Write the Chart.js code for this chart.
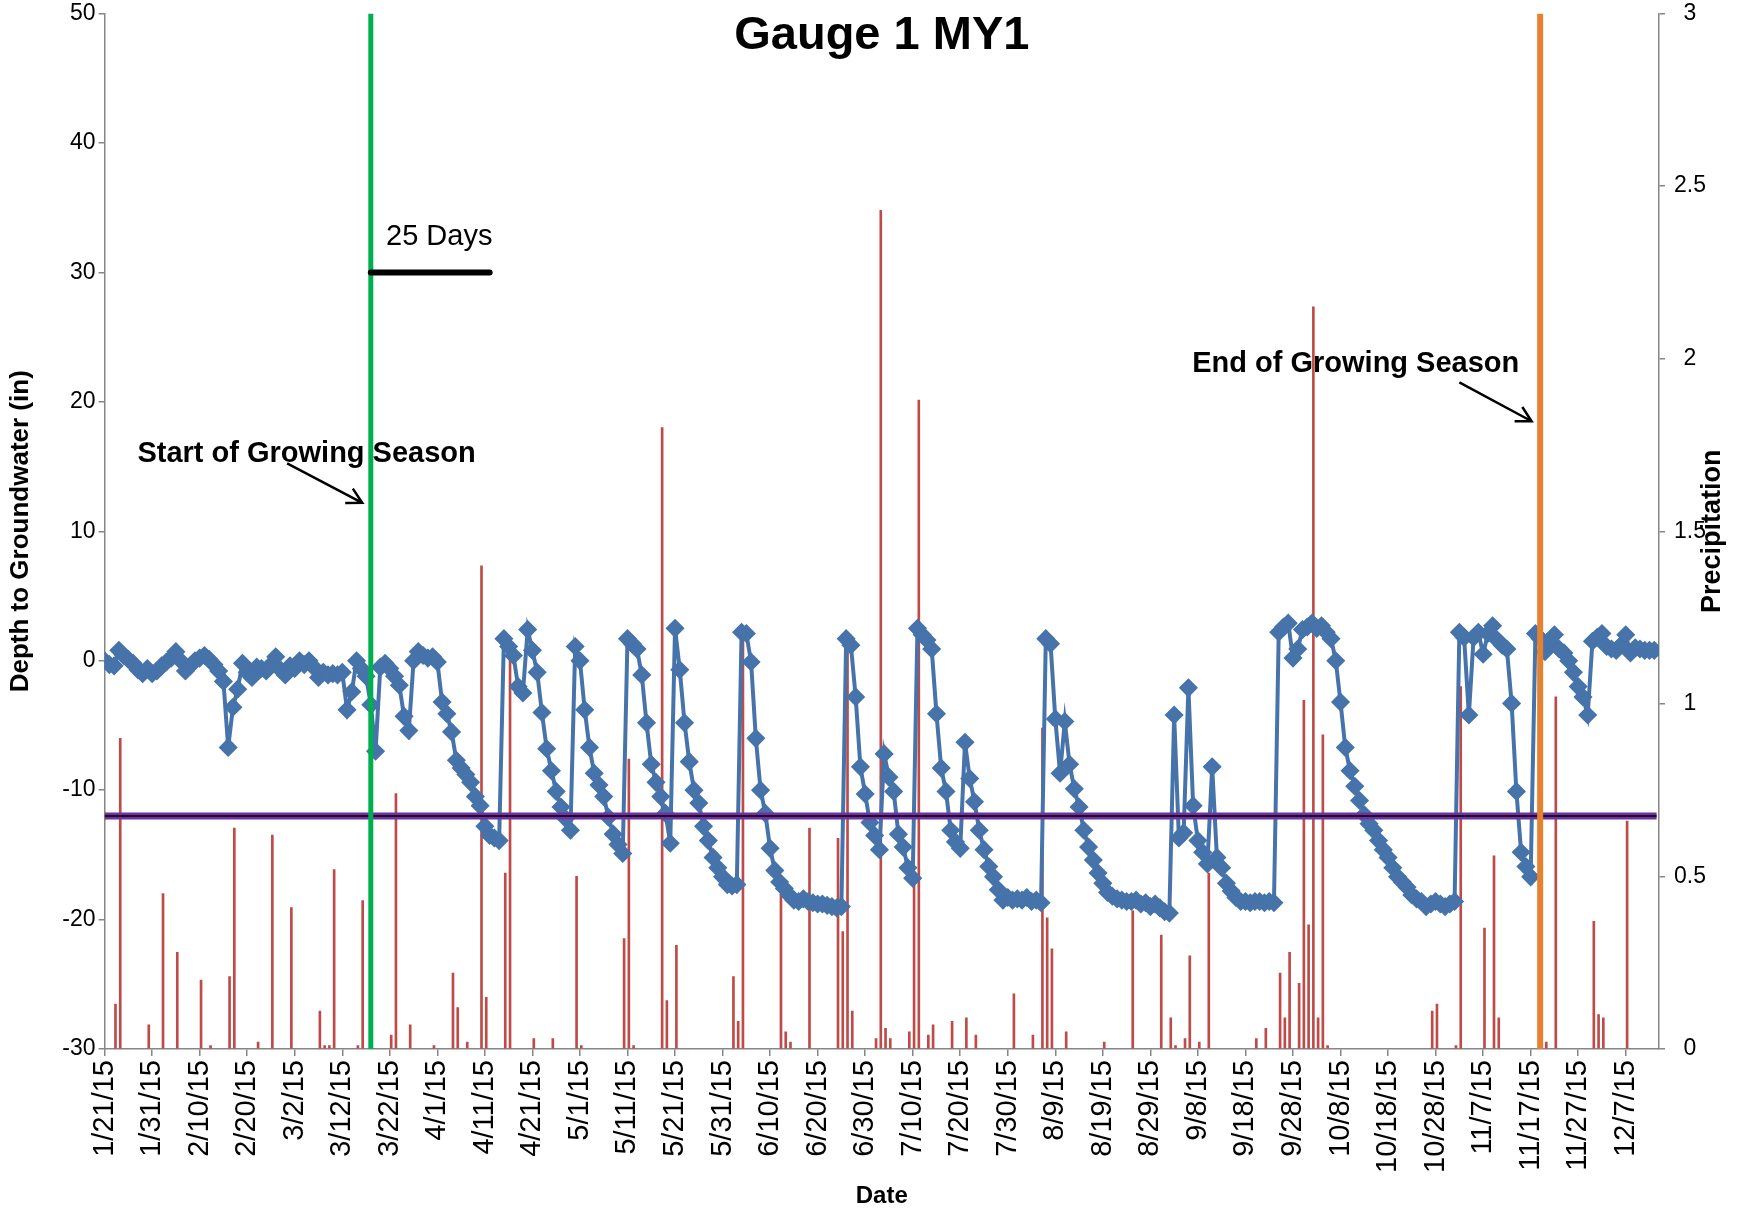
<!DOCTYPE html>
<html>
<head>
<meta charset="utf-8">
<title>Gauge 1 MY1</title>
<script src="https://cdn.jsdelivr.net/npm/chart.js@4.4.1/dist/chart.umd.min.js"></script>
<style>
  html, body { margin: 0; padding: 0; background: #fff; }
</style>
</head>
<body>
<canvas id="chart" width="1763" height="1212"></canvas>
<script>
// Daily well readings from 1/21/15; index = days since 1/21/15.
const TITLE = "Gauge 1 MY1";

const TICK_LABELS = [
  "1/21/15", "1/31/15", "2/10/15", "2/20/15", "3/2/15", "3/12/15", "3/22/15",
  "4/1/15", "4/11/15", "4/21/15", "5/1/15", "5/11/15", "5/21/15", "5/31/15",
  "6/10/15", "6/20/15", "6/30/15", "7/10/15", "7/20/15", "7/30/15", "8/9/15",
  "8/19/15", "8/29/15", "9/8/15", "9/18/15", "9/28/15", "10/8/15", "10/18/15",
  "10/28/15", "11/7/15", "11/17/15", "11/27/15", "12/7/15",
];

// depth to groundwater (in), one value per day
const GW_DEPTH = [
  0.0, -0.3, -0.4, 0.8, 0.4, 0.1, -0.2, -0.7, -1.0, -0.6,          // 1/21
  -1.0, -0.8, -0.4, -0.1, 0.2, 0.7, 0.0, -0.8, -0.4, 0.0,          // 1/31
  0.2, 0.4, 0.1, -0.3, -0.8, -1.6, -6.7, -3.6, -2.2, -0.2,         // 2/10
  -0.9, -1.3, -0.5, -0.6, -0.8, -0.3, 0.3, -0.7, -1.1, -0.4,       // 2/20
  -0.6, 0.0, -0.3, 0.0, -0.5, -1.3, -0.9, -1.1, -1.0, -1.1,        // 3/2
  -0.9, -3.8, -2.4, 0.0, -0.6, -1.2, -3.4, -7.0, -0.5, -0.2,       // 3/12
  -0.6, -1.2, -1.9, -4.3, -5.4, 0.0, 0.7, 0.4, 0.2, 0.3,           // 3/22
  -0.1, -3.2, -4.1, -5.5, -7.7, -8.3, -8.8, -9.4, -10.5, -11.2,    // 4/1
  -12.8, -13.5, -13.7, -13.9, 1.7, 1.1, 0.4, -2.0, -2.5, 2.4,      // 4/11
  0.8, -0.9, -4.0, -6.8, -8.5, -10.1, -11.3, -12.2, -13.1, 1.1,    // 4/21
  0.0, -3.8, -6.7, -8.7, -9.6, -10.5, -12.1, -13.4, -14.2, -14.9,  // 5/1
  1.7, 1.3, 0.9, -1.1, -4.8, -8.0, -9.4, -10.5, -11.8, -14.1,      // 5/11
  2.5, -0.7, -4.8, -7.8, -10.0, -11.0, -12.8, -13.9, -15.2, -16.0, // 5/21
  -16.7, -17.3, -17.4, -17.3, 2.2, 2.1, -0.1, -6.0, -10.0, -11.8,  // 5/31
  -14.5, -16.2, -17.1, -17.6, -18.1, -18.5, -18.6, -18.4, -18.6, -18.7, // 6/10
  -18.8, -18.8, -18.9, -19.0, -19.1, -19.0, 1.7, 1.2, -2.8, -8.2,  // 6/20
  -10.3, -12.5, -13.5, -14.6, -7.2, -9.0, -10.1, -13.4, -14.4, -16.0, // 6/30
  -16.8, 2.5, 2.0, 1.6, 0.9, -4.1, -8.3, -10.1, -13.1, -14.0,      // 7/10
  -14.5, -6.3, -9.1, -10.9, -13.1, -14.6, -15.9, -16.7, -17.7, -18.5, // 7/20
  -18.3, -18.5, -18.4, -18.5, -18.3, -18.6, -18.5, -18.7, 1.7, 1.3, // 7/30
  -4.5, -8.7, -4.7, -8.0, -9.9, -11.3, -13.1, -14.4, -15.4, -16.4, // 8/9
  -17.2, -17.9, -18.2, -18.4, -18.5, -18.6, -18.6, -18.5, -18.8, -18.7, // 8/19
  -19.0, -18.8, -19.1, -19.4, -19.5, -4.2, -13.7, -13.3, -2.1, -11.2, // 8/29
  -13.9, -14.8, -15.7, -8.2, -15.2, -16.0, -17.2, -17.8, -18.3, -18.6, // 9/8
  -18.6, -18.7, -18.6, -18.6, -18.7, -18.6, -18.7, 2.2, 2.6, 2.9,  // 9/18
  0.2, 0.9, 2.4, 2.6, 2.9, 2.5, 2.7, 2.2, 1.7, 0.0,                // 9/28
  -3.2, -6.7, -8.5, -9.7, -10.8, -11.9, -12.6, -13.1, -13.9, -14.6, // 10/8
  -15.2, -16.0, -16.7, -17.1, -17.5, -18.1, -18.4, -18.6, -19.0, -18.8, // 10/18
  -18.6, -18.8, -19.0, -18.8, -18.6, 2.2, 1.8, -4.2, 1.8, 2.2,     // 10/28
  0.5, 2.1, 2.7, 1.6, 1.2, 0.9, -3.3, -10.1, -14.8, -15.9,         // 11/7
  -16.7, 2.1, 1.7, 0.7, 1.2, 2.0, 0.9, 0.6, 0.0, -0.9,             // 11/17
  -2.0, -2.8, -4.2, 1.5, 1.8, 2.1, 1.1, 0.9, 0.8, 1.2,             // 11/27
  2.0, 0.6, 1.0, 0.9, 0.8, 0.8, 0.8,                               // 12/7
];

// daily precipitation (in): day index and amount, dry days left out
const PRECIP_DAY = [
  2, 3, 9, 12, 15, 20, 22, 26, 27, 32, 35, 39, 45, 46, 47, 48, 53, 54,
  60, 61, 64, 69, 73, 74, 76, 79, 80, 84, 85, 90, 94, 99, 100, 109, 110, 111,
  117, 118, 120, 132, 133, 134, 142, 143, 144, 148, 154, 155, 156, 157,
  162, 163, 164, 165, 169, 170, 171, 173, 174,
  178, 181, 183, 191, 195, 197, 198, 199, 202, 210, 216, 222, 224, 225,
  227, 228, 230, 232,
  242, 244, 247, 248, 249, 251, 252, 253, 254, 255, 256, 257,
  279, 280, 284, 285, 290, 292, 293,
  303, 305, 313, 314, 315, 320,
];
const PRECIP_IN = [
  0.13, 0.90, 0.07, 0.45, 0.28, 0.20, 0.01, 0.21, 0.64, 0.02, 0.62, 0.41, 0.11, 0.01, 0.01, 0.52, 0.01, 0.43,
  0.04, 0.74, 0.07, 0.01, 0.22, 0.12, 0.02, 1.40, 0.15, 0.51, 1.13, 0.03, 0.03, 0.50, 0.01, 0.32, 0.84, 0.01,
  1.80, 0.14, 0.30, 0.21, 0.08, 1.22, 0.45, 0.05, 0.02, 0.64, 0.61, 0.34, 1.15, 0.11,
  0.03, 2.43, 0.06, 0.03, 0.05, 0.51, 1.88, 0.04, 0.07,
  0.08, 0.09, 0.04, 0.16, 0.04, 0.93, 0.38, 0.29, 0.05, 0.02, 0.40, 0.33, 0.09, 0.01,
  0.03, 0.27, 0.02, 0.51,
  0.03, 0.06, 0.22, 0.09, 0.28, 0.19, 1.01, 0.36, 2.15, 0.09, 0.91, 0.01,
  0.11, 0.13, 0.01, 1.05, 0.35, 0.56, 0.09,
  0.02, 1.02, 0.37, 0.10, 0.09, 0.66,
];

const GROWING_START_DAY = 56;   // 3/18/15
const GROWING_END_DAY = 302;    // 11/19/15
const SEASON_WINDOW_DAYS = 25;
const SEASON_WINDOW_LEVEL = 30;
const CRITERION_DEPTH = -12;    // 12 in below surface
const LAST_DAY = 327;

const FONT = '"Liberation Sans", Arial, Helvetica, sans-serif';
const AXIS_GRAY = "#868686";
const PLOT_TOP = 13.5;

Chart.defaults.font.family = FONT;
Chart.defaults.color = "#000";

// text + arrows drawn over the plot, placed in data coordinates
const annotationPlugin = {
  id: "annotations",
  afterDraw(chart) {
    const { ctx, chartArea, scales } = chart;
    const x = scales.x, y = scales.y;
    ctx.save();
    ctx.fillStyle = "#000";
    ctx.strokeStyle = "#000";

    ctx.font = `bold 47px ${FONT}`;
    ctx.textAlign = "center";
    ctx.textBaseline = "middle";
    ctx.fillText(TITLE, (chartArea.left + chartArea.right) / 2, 36);

    ctx.font = `bold 29px ${FONT}`;
    ctx.textAlign = "left";
    ctx.fillText("Start of Growing Season", x.getPixelForValue(6.9), y.getPixelForValue(16.0));
    ctx.fillText("End of Growing Season", x.getPixelForValue(228.8), y.getPixelForValue(22.9));

    ctx.font = `29px ${FONT}`;
    ctx.fillText(SEASON_WINDOW_DAYS + " Days", x.getPixelForValue(59.2), y.getPixelForValue(32.7));

    const arrow = (d0, v0, d1, v1) => {
      const x0 = x.getPixelForValue(d0), y0 = y.getPixelForValue(v0);
      const x1 = x.getPixelForValue(d1), y1 = y.getPixelForValue(v1);
      const a = Math.atan2(y1 - y0, x1 - x0);
      ctx.lineWidth = 2.5;
      ctx.beginPath();
      ctx.moveTo(x0, y0);
      ctx.lineTo(x1, y1);
      ctx.moveTo(x1 - 17 * Math.cos(a - 0.5), y1 - 17 * Math.sin(a - 0.5));
      ctx.lineTo(x1, y1);
      ctx.lineTo(x1 - 17 * Math.cos(a + 0.5), y1 - 17 * Math.sin(a + 0.5));
      ctx.stroke();
    };
    arrow(38.4, 15.25, 54.2, 12.2);
    arrow(285.0, 21.5, 300.2, 18.5);

    // right axis title reads bottom-to-top like the left one
    ctx.font = `bold 27px ${FONT}`;
    ctx.textAlign = "center";
    ctx.translate(scales.y2.right - 50, (chartArea.top + chartArea.bottom) / 2);
    ctx.rotate(-Math.PI / 2);
    ctx.fillText("Precipitation", 0, 0);
    ctx.restore();
  },
};

const vline = (day, color, width) => ({
  type: "line",
  data: [{ x: day, y: -30 }, { x: day, y: 50 }],
  borderColor: color,
  borderWidth: width,
  pointRadius: 0,
  order: 1,
});

new Chart(document.getElementById("chart"), {
  type: "line",
  data: {
    datasets: [
      {
        label: "Precipitation",
        type: "bar",
        data: PRECIP_DAY.map((d, i) => ({ x: d, y: PRECIP_IN[i] })),
        xAxisID: "xp",
        yAxisID: "y2",
        backgroundColor: "#BE4B48",
        barThickness: 2,
        order: 5,
      },
      {
        label: "Depth to Groundwater",
        data: GW_DEPTH.map((v, i) => ({ x: i, y: v })),
        borderColor: "#4673AA",
        backgroundColor: "#4673AA",
        borderWidth: 4,
        pointStyle: "rectRot",
        pointRadius: 8.5,
        pointBorderWidth: 1.5,
        tension: 0,
        order: 4,
      },
      {
        label: "Criterion",
        data: [{ x: 0, y: CRITERION_DEPTH }, { x: LAST_DAY - 0.5, y: CRITERION_DEPTH }],
        borderColor: "#7030A0",
        borderWidth: 7,
        pointRadius: 0,
        order: 3,
      },
      {
        label: "Criterion core",
        data: [{ x: 0, y: CRITERION_DEPTH }, { x: LAST_DAY - 0.5, y: CRITERION_DEPTH }],
        borderColor: "#000",
        borderWidth: 1.3,
        pointRadius: 0,
        order: 2,
      },
      vline(GROWING_START_DAY, "#00B050", 5),
      vline(GROWING_END_DAY, "#E6822F", 6),
      {
        label: "25 Days",
        data: [
          { x: GROWING_START_DAY, y: SEASON_WINDOW_LEVEL },
          { x: GROWING_START_DAY + SEASON_WINDOW_DAYS, y: SEASON_WINDOW_LEVEL },
        ],
        borderColor: "#000",
        borderWidth: 6,
        borderCapStyle: "round",
        pointRadius: 0,
        order: 0,
      },
    ],
  },
  options: {
    responsive: false,
    animation: false,
    layout: { padding: 0 },
    plugins: { legend: { display: false }, tooltip: { enabled: false } },
    scales: {
      x: {
        type: "linear",
        min: 0,
        max: LAST_DAY,
        offset: false,
        border: { color: AXIS_GRAY, width: 1.5 },
        grid: { drawOnChartArea: false, tickLength: 7, color: AXIS_GRAY, lineWidth: 1.5 },
        ticks: {
          stepSize: 10,
          includeBounds: false,
          autoSkip: false,
          minRotation: 90,
          maxRotation: 90,
          padding: 4,
          font: { size: 29 },
          color: "#000",
          callback: (v, i) => TICK_LABELS[i] ?? "",
        },
        title: { display: true, text: "Date", font: { size: 24, weight: "bold" }, padding: { top: 0, bottom: 1 } },
        afterFit: s => { s.height = 163; },
      },
      xp: { type: "linear", display: false, min: -0.5, max: LAST_DAY - 0.5, offset: false },
      y: {
        position: "left",
        min: -30,
        max: 50,
        border: { color: AXIS_GRAY, width: 1.5 },
        grid: { drawOnChartArea: false, tickLength: 6, color: AXIS_GRAY, lineWidth: 1.5 },
        ticks: { stepSize: 10, padding: 3, font: { size: 23 }, color: "#000" },
        title: { display: true, text: "Depth to Groundwater (in)", font: { size: 26, weight: "bold" }, padding: { top: 5, bottom: 0 } },
        afterFit: s => { s.width = 104.6; s.paddingTop = PLOT_TOP; s.paddingBottom = 0; },
      },
      y2: {
        position: "right",
        min: 0,
        max: 3,
        border: { color: AXIS_GRAY, width: 1.5 },
        grid: { drawOnChartArea: false, tickLength: 6, color: AXIS_GRAY, lineWidth: 1.5 },
        ticks: { stepSize: 0.5, padding: 9, crossAlign: "center", font: { size: 23 }, color: "#000", callback: v => String(v) },
        afterFit: s => { s.width = 104; s.paddingTop = PLOT_TOP; s.paddingBottom = 0; },
      },
    },
  },
  plugins: [annotationPlugin],
});
</script>
</body>
</html>
